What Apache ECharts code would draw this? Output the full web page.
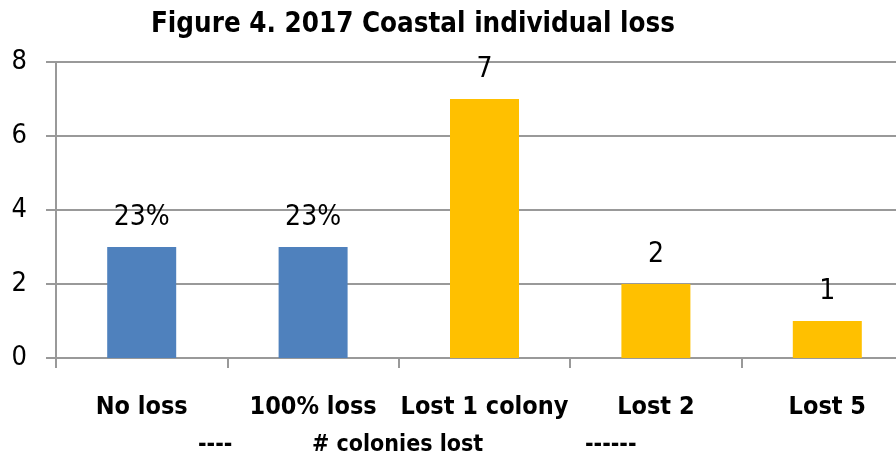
<!DOCTYPE html>
<html><head><meta charset="utf-8">
<script src="https://cdn.jsdelivr.net/npm/echarts@6/dist/echarts.min.js"></script>
<style>html,body{margin:0;padding:0;background:#fff}#c{width:896px;height:459px}</style>
</head><body><div id="c"></div>
<script>
const categories = ['No loss', '100% loss', 'Lost 1 colony', 'Lost 2', 'Lost 5'];
const values = [3, 3, 7, 2, 1];
const valueLabels = ['23%', '23%', '7', '2', '1'];
const yTicks = [0, 2, 4, 6, 8];
const titleText = 'Figure 4. 2017 Coastal individual loss';
const axisNameParts = ['----', '# colonies lost', '------'];

const FONT = '"DejaVu Sans Condensed", "Liberation Sans", sans-serif';
const chart = echarts.init(document.getElementById('c'));
chart.setOption({
  animation: false,
  backgroundColor: '#fff',
  title: {
    text: titleText, left: 408, top: 6, textAlign: 'center',
    textStyle: { fontFamily: FONT, fontWeight: 'bold', fontSize: 27.5, color: '#000' }
  },
  grid: { left: 56, width: 857, top: 62, bottom: 101, containLabel: false, outerBoundsMode: 'none' },
  xAxis: {
    type: 'category', data: categories,
    axisLine: { lineStyle: { color: '#999', width: 2 } },
    axisTick: { show: true, length: 10, lineStyle: { color: '#999', width: 2 } },
    axisLabel: { fontFamily: FONT, fontWeight: 'bold', fontSize: 25, color: '#000', margin: 37, interval: 0 }
  },
  yAxis: {
    type: 'value', min: yTicks[0], max: yTicks[yTicks.length - 1], interval: 2,
    axisLine: { show: true, lineStyle: { color: '#999', width: 2 } },
    axisTick: { show: true, length: 10, lineStyle: { color: '#999', width: 2 } },
    splitLine: { show: true, lineStyle: { color: '#999', width: 2 } },
    axisLabel: { fontFamily: FONT, fontSize: 27, color: '#000', margin: 29 }
  },
  graphic: [
    { type: 'text', left: 198, top: 434, style: { text: axisNameParts[0], font: 'bold 23px ' + FONT, fill: '#000' } },
    { type: 'text', left: 312, top: 434, style: { text: axisNameParts[1], font: 'bold 23px ' + FONT, fill: '#000' } },
    { type: 'text', left: 585, top: 434, style: { text: axisNameParts[2], font: 'bold 23px ' + FONT, fill: '#000' } }
  ],
  series: [{
    type: 'bar', data: values, barWidth: 69,
    itemStyle: { color: p => p.dataIndex < 2 ? '#4F81BD' : '#FFC000' },
    label: {
      show: true, position: 'top', distance: 15,
      formatter: p => valueLabels[p.dataIndex],
      fontFamily: FONT, fontSize: 28, color: '#000'
    }
  }]
});
</script></body></html>
